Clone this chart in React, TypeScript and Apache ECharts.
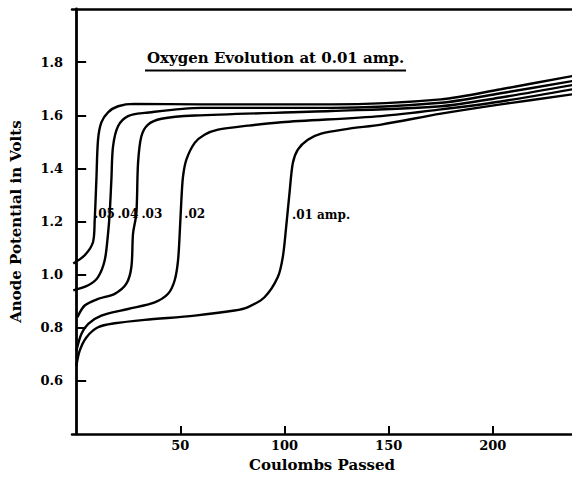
import React, { useEffect, useRef } from "react";
import * as echarts from "echarts";

const xTicks = [50, 100, 150, 200];
const yTicks = [0.6, 0.8, 1.0, 1.2, 1.4, 1.6, 1.8];

const amp05: [number, number][] = [
  [-1.4, 1.042], [4.1, 1.073], [8.1, 1.123], [8.9, 1.206], [9.7, 1.357], [10.5, 1.508],
  [12.1, 1.573], [15.3, 1.611], [20.1, 1.634], [27.9, 1.643], [60, 1.641], [122.4, 1.641],
  [175.1, 1.66], [203.8, 1.698], [238.4, 1.748],
];
const amp04: [number, number][] = [
  [-1.4, 0.941], [5.8, 0.96], [10.5, 0.991], [13.7, 1.054], [15.3, 1.155], [16.1, 1.232],
  [16.9, 1.357], [17.7, 1.483], [20.1, 1.559], [24.9, 1.597], [32.9, 1.609], [60, 1.628],
  [122.4, 1.628], [175.1, 1.647], [203.8, 1.683], [238.4, 1.729],
];
const amp03: [number, number][] = [
  [0.6, 0.84], [4.1, 0.884], [10.5, 0.909], [18.5, 0.928], [24.1, 0.966], [26.5, 1.029],
  [27.3, 1.155], [28.9, 1.231], [29.7, 1.42], [31.3, 1.521], [34.5, 1.565], [40.9, 1.587],
  [56.9, 1.599], [122.4, 1.616], [175.1, 1.634], [203.8, 1.667], [238.4, 1.714],
];
const amp02: [number, number][] = [
  [0.1, 0.714], [2.5, 0.777], [5.8, 0.815], [12.1, 0.846], [24.9, 0.871], [37.7, 0.896],
  [44.1, 0.928], [47.3, 0.979], [48.9, 1.054], [49.7, 1.155], [50.5, 1.281], [51.3, 1.37],
  [52.9, 1.433], [56.9, 1.496], [61.6, 1.527], [68.1, 1.546], [82.5, 1.561], [98.4, 1.574],
  [146.4, 1.597], [175.1, 1.622], [203.8, 1.652], [238.4, 1.698],
];
const amp01: [number, number][] = [
  [0.1, 0.657], [1.7, 0.714], [4.9, 0.764], [10.5, 0.802], [18.5, 0.817], [32.9, 0.83],
  [56.9, 0.846], [76.0, 0.865], [82.5, 0.878], [90.4, 0.915], [96.8, 0.991], [99.2, 1.067],
  [100.8, 1.18], [102.4, 1.307], [104.0, 1.42], [106.4, 1.471], [111.2, 1.508], [117.6, 1.531],
  [130.4, 1.549], [146.4, 1.565], [175.1, 1.606], [203.8, 1.641], [238.4, 1.679],
];

const curveLabels = [".05", ".04", ".03", ".02", ".01 amp."];
const curveLabelX = [8.6, 19.8, 31.3, 51.9, 103.6];
const curveLabelY = [1.228, 1.228, 1.228, 1.228, 1.225];

const titleText = "Oxygen Evolution at 0.01 amp.";
const xName = "Coulombs Passed";
const yName = "Anode Potential in Volts";

const FONT = "DejaVu Serif";
const INK = "#000";

export default function App() {
  const ref = useRef<HTMLDivElement>(null);
  useEffect(() => {
    if (!ref.current) return;
    const chart = echarts.init(ref.current, undefined, { renderer: "svg" });
    const curves = [amp05, amp04, amp03, amp02, amp01];
    const lineSeries = curves.map((d, i) => ({
      type: "line",
      name: curveLabels[i],
      data: d,
      showSymbol: false,
      smooth: 0.3,
      lineStyle: { color: INK, width: 2.4 },
      z: 3,
    }));
    chart.setOption({
      animation: false,
      backgroundColor: "#fff",
      grid: { left: 70, right: 0, top: 9, bottom: 41 },
      xAxis: [
        {
          type: "value",
          min: -2,
          max: 238,
          name: xName,
          nameLocation: "middle",
          nameGap: 22,
          nameTextStyle: { fontFamily: FONT, fontWeight: "bold", fontSize: 15, color: INK },
          axisLine: { show: true, lineStyle: { color: INK, width: 2.5 } },
          axisTick: { show: true, inside: true, length: 8, customValues: xTicks, lineStyle: { color: INK, width: 2 } },
          axisLabel: {
            customValues: xTicks,
            margin: 5,
            fontFamily: FONT,
            fontWeight: "bold",
            fontSize: 13,
            color: INK,
          },
          splitLine: { show: false },
        },
        {
          type: "value",
          position: "top",
          min: -2,
          max: 238,
          axisLine: { show: true, lineStyle: { color: INK, width: 2.5 } },
          axisTick: { show: false },
          axisLabel: { show: false },
          splitLine: { show: false },
        },
      ],
      yAxis: {
        type: "value",
        min: 0.4,
        max: 2.0,
        name: yName,
        nameLocation: "middle",
        nameGap: 49,
        nameTextStyle: { fontFamily: FONT, fontWeight: "bold", fontSize: 15, color: INK },
        axisLine: { show: true, lineStyle: { color: INK, width: 2.8 } },
        axisTick: { show: true, inside: true, length: 10, customValues: yTicks, lineStyle: { color: INK, width: 2 } },
        axisLabel: {
          customValues: yTicks,
          margin: 9,
          formatter: (v: number) => v.toFixed(1),
          fontFamily: FONT,
          fontWeight: "bold",
          fontSize: 13,
          color: INK,
        },
        splitLine: { show: false },
      },
      series: [
        ...lineSeries,
        {
          type: "scatter",
          symbolSize: 0,
          data: curveLabels.map((t, i) => ({ name: t, value: [curveLabelX[i], curveLabelY[i]] })),
          label: {
            show: true,
            position: "right",
            distance: 0,
            formatter: (p: any) => p.name,
            fontFamily: FONT,
            fontWeight: "bold",
            fontSize: 12,
            color: INK,
          },
          itemStyle: { color: INK, opacity: 1 },
          z: 5,
        },
      ],
      graphic: [
        {
          type: "text",
          left: 147,
          top: 50,
          style: { text: titleText, fontFamily: FONT, fontWeight: "bold", fontSize: 15, fill: INK },
        },
        {
          type: "line",
          shape: { x1: 145, y1: 70.5, x2: 406, y2: 70.5 },
          style: { stroke: INK, lineWidth: 2 },
        },
      ],
    });
    return () => chart.dispose();
  }, []);
  return <div ref={ref} style={{ width: 572, height: 477, position: "absolute", left: 0, top: 0 }} />;
}
